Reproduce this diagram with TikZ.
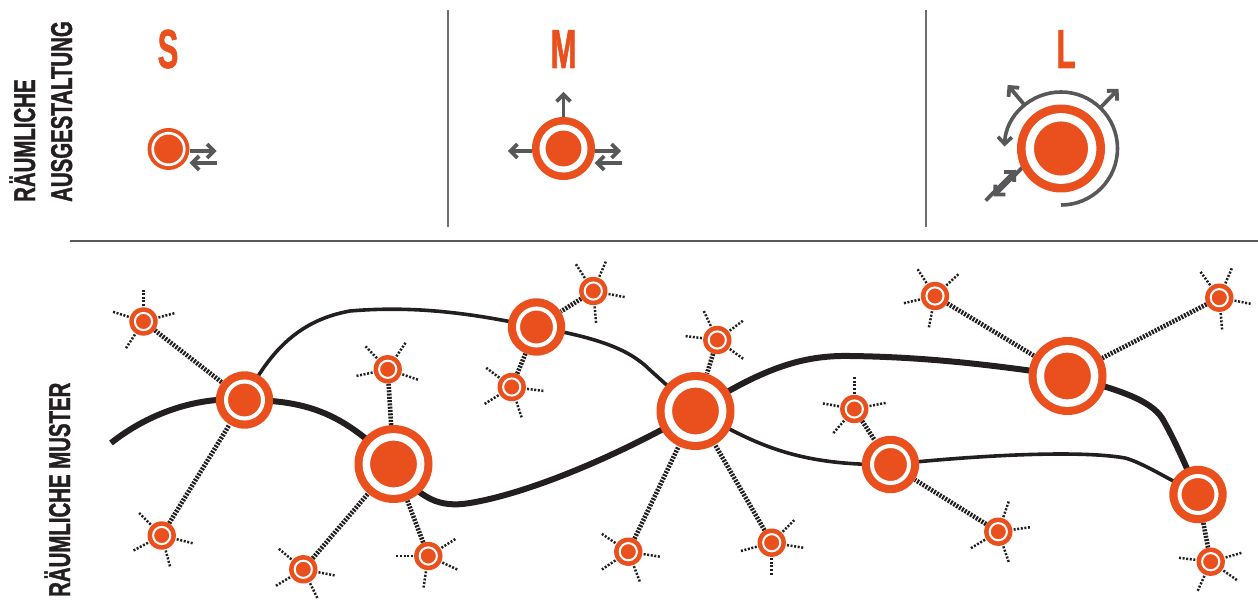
\documentclass[tikz,border=0pt]{standalone}
\usepackage{fontspec}
\newfontfamily\labfont[FakeStretch=0.68,FakeBold=1.2]{Liberation Sans}
\newfontfamily\sizfont[FakeStretch=0.56,FakeBold=1.2]{Liberation Sans}
\usetikzlibrary{arrows.meta,calc}
\definecolor{orng}{HTML}{E9501E}
\definecolor{ink}{HTML}{231F20}
\definecolor{agray}{HTML}{58585A}
\definecolor{sepgray}{HTML}{6D6E71}
\pgfdeclarelayer{bg}
\pgfsetlayers{bg,main}
\newcommand\myrays[2]{\foreach \a in {#2} {\draw[ray] ($(#1.center)+(\a:15.5)$) -- ($(#1.center)+(\a:33)$);}}
\begin{document}
\begin{tikzpicture}[x=1pt,y=-1pt,
  hubnode/.style n args={3}{circle, fill=orng, draw=none, inner sep=0pt, minimum size=2*#1,
    path picture={\draw[white, line width=#3] (path picture bounding box.center) circle[radius=#2];}},
  smallhub/.style={hubnode={14.2}{8.6}{2}},
  midhub/.style={hubnode={28.7}{18.5}{4}},
  bighub/.style={hubnode={39}{27.2}{7.5}},
  iconS/.style={hubnode={21}{15.8}{2.6}},
  iconM/.style={hubnode={31.5}{21}{6}},
  iconL/.style={hubnode={44}{31.2}{8.3}},
  thickline/.style={draw=ink, line width=6pt},
  thinline/.style={draw=ink, line width=3.6pt},
  spoke/.style={draw=ink, line width=4.6pt, dash pattern=on 2pt off 1.3pt},
  ray/.style={draw=ink, line width=2.5pt, dash pattern=on 2pt off 1.6pt},
  garrow/.style={draw=agray, line width=3.8pt, -{Straight Barb[length=7pt,width=14pt]}},
  garc/.style={draw=agray, line width=3.6pt},
  sepline/.style={draw=sepgray, line width=1.3pt},
  labtext/.style={text=ink, inner sep=0pt, font=\labfont\bfseries\fontsize{30}{30}\selectfont},
  sizetext/.style={text=orng, inner sep=0pt, anchor=base, font=\sizfont\bfseries\fontsize{55}{55}\selectfont}
]
\useasboundingbox (0,0) rectangle (1258,601);

% ---------- labels ----------
\node[labtext, anchor=base west, rotate=90] (lab1) at (35,202) {RÄUMLICHE};
\node[labtext, anchor=base west, rotate=90] (lab2) at (72,202) {AUSGESTALTUNG};
\node[labtext, anchor=base west, rotate=90] (lab3) at (70,597) {RÄUMLICHE MUSTER};
\node[sizetext] (tS) at (168,68) {S};
\node[sizetext] (tM) at (563.5,68) {M};
\node[sizetext] (tL) at (1066,68) {L};

% ---------- separators ----------
\coordinate (v1a) at (448,10); \coordinate (v1b) at (448,227);
\coordinate (v2a) at (926,10); \coordinate (v2b) at (926,227);
\coordinate (h1a) at (70,241); \coordinate (h1b) at (1258,241);
\draw[sepline] (v1a) -- (v1b);
\draw[sepline] (v2a) -- (v2b);
\draw[sepline, draw=agray] (h1a) -- (h1b);

% ---------- icons ----------
\node[iconS] (Sicon) at (168.5,149) {};
\node[iconM] (Micon) at (563.5,148.5) {};
\node[iconL] (Licon) at (1061,148.5) {};

% ---------- hubs ----------
\node[midhub] (A) at (244.5,400) {};
\node[bighub] (B) at (393.5,464) {};
\node[midhub] (C) at (536.5,327) {};
\node[bighub] (D) at (695.5,411) {};
\node[bighub] (E) at (1067.5,376) {};
\node[midhub] (F) at (890.5,464.5) {};
\node[midhub] (G) at (1198,494.5) {};
\coordinate (t0) at (111,443);

% ---------- small nodes ----------
\node[smallhub] (s1) at (143.5,321.5) {};
\node[smallhub] (s2) at (161.7,535.5) {};
\node[smallhub] (s3) at (387.7,369.3) {};
\node[smallhub] (s4) at (303.3,569.3) {};
\node[smallhub] (s5) at (428.3,556) {};
\node[smallhub] (s6) at (511.7,387) {};
\node[smallhub] (s7) at (593.3,291) {};
\node[smallhub] (s8) at (717.3,340) {};
\node[smallhub] (s9) at (628.3,551.7) {};
\node[smallhub] (s10) at (771.7,542.7) {};
\node[smallhub] (s11) at (854.3,409) {};
\node[smallhub] (s12) at (998.3,531.7) {};
\node[smallhub] (s13) at (935,296) {};
\node[smallhub] (s14) at (1219.3,297.7) {};
\node[smallhub] (s15) at (1210.7,561.7) {};

\begin{pgfonlayer}{bg}
% icon arrows
\draw[garrow] ([yshift=-2pt]Sicon.east) -- ++(27,0);
\draw[garrow] ([yshift=-14pt,xshift=48pt]Sicon.center) -- ++(-27,0);
\draw[garrow] (Micon.north) -- ++(0,-25);
\draw[garrow] ([yshift=-2.5pt]Micon.west) -- ++(-24,0);
\draw[garrow] ([yshift=-2.5pt]Micon.east) -- ++(26,0);
\draw[garrow] ([yshift=-14.5pt,xshift=58pt]Micon.center) -- ++(-27,0);
\draw[garc, -{Straight Barb[length=7pt,width=14pt]}] ([yshift=-56.5pt]Licon.center) arc[start angle=90, end angle=-178, radius=56.5];
\draw[garrow] ($(Licon.center)+(-130:58)$) -- ($(Licon.center)+(-130:83)$);
\draw[garrow] ($(Licon.center)+(-46:58)$) -- ($(Licon.center)+(-46:83)$);
\draw[garrow] (985.6,200.6) -- (1016,170);
\draw[garrow] (1027,162.8) -- (993.5,196.5);

% network lines
\draw[thickline] (t0) .. controls (150,412) and (200,396) .. (A.center)
  .. controls (310,400) and (345,415) .. (B.center)
  .. controls (420,500) and (440,508) .. (470,503)
  .. controls (530,493) and (620,455) .. (D.center)
  .. controls (760,370) and (800,355) .. (850,356)
  .. controls (930,357) and (1000,366) .. (E.center)
  .. controls (1120,390) and (1150,400) .. (1162,418)
  .. controls (1175,440) and (1190,475) .. (G.center);
\draw[thinline] (A.center) .. controls (270,350) and (300,320) .. (350,311)
  .. controls (420,305) and (480,315) .. (C.center)
  .. controls (600,338) and (630,350) .. (650,370) -- (D.center)
  .. controls (750,440) and (790,466) .. (F.center)
  .. controls (980,455) and (1080,450) .. (1125,458)
  .. controls (1140,462) and (1160,474) .. (G.center);

% spokes
\draw[spoke] (s1) -- (A);
\draw[spoke] (s2) -- (A);
\draw[spoke] (s3) -- (B);
\draw[spoke] (s4) -- (B);
\draw[spoke] (s5) -- (B);
\draw[spoke] (s6) -- (C);
\draw[spoke] (s7) -- (C);
\draw[spoke] (s8) -- (D);
\draw[spoke] (s9) -- (D);
\draw[spoke] (s10) -- (D);
\draw[spoke] (s11) -- (F);
\draw[spoke] (s12) -- (F);
\draw[spoke] (s13) -- (E);
\draw[spoke] (s14) -- (E);
\draw[spoke] (s15) -- (G);

% rays
\myrays{s1}{-90,197.6,-15,123.3}
\myrays{s2}{-135,152,14,75}
\myrays{s3}{-134,-56,168,19}
\myrays{s4}{-140,149,11,64}
\myrays{s5}{180,-32,25,98.6}
\myrays{s6}{-143,7,148,72}
\myrays{s7}{-123,-67,11,85}
\myrays{s8}{-115,-37,187,36}
\myrays{s9}{-146,146,9,69}
\myrays{s10}{-45,165,9,90}
\myrays{s11}{-90,190,-11,131}
\myrays{s12}{-71,-8,149,71}
\myrays{s13}{-123,-43,167,101}
\myrays{s14}{-126,-67,11,85}
\myrays{s15}{-173,-16,114,35}
\end{pgfonlayer}
\end{tikzpicture}
\end{document}
